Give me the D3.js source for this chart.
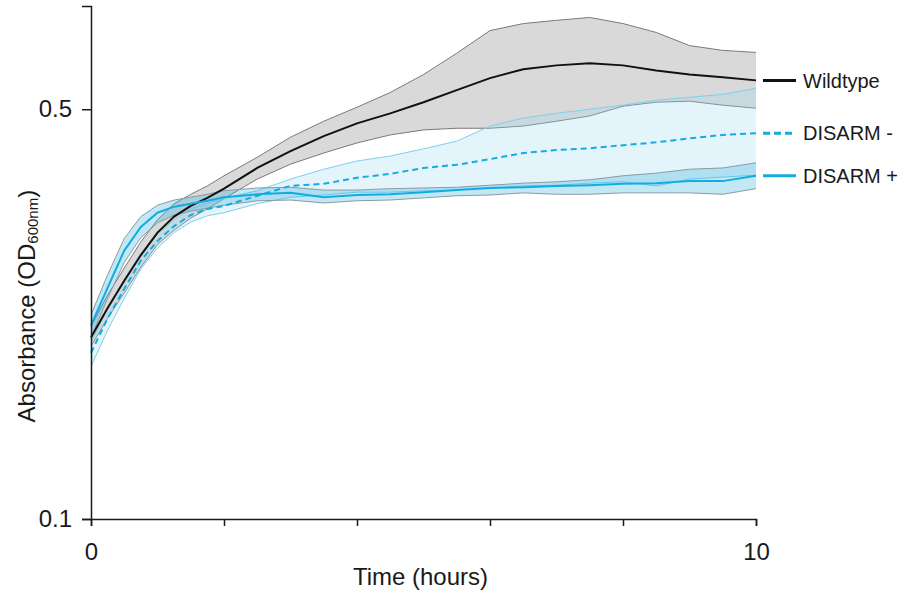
<!DOCTYPE html>
<html lang="en">
<head>
    <meta charset="UTF-8">
    <title>Growth curves</title>
    <script src="https://d3js.org/d3.v7.min.js"></script>
    <style>
        body {
            margin: 0;
            background-color: #ffffff;
            font-family: "Liberation Sans", Arial, sans-serif;
        }
        svg text {
            fill: #1a1a1a;
        }
    </style>
</head>
<body>
    <svg id="chart" width="899" height="594"></svg>

    <script>
        // time points (hours)
        const times = [0, 0.25, 0.5, 0.75, 1, 1.25, 1.5, 1.75, 2, 2.5, 3, 3.5, 4, 4.5, 5, 5.5, 6, 6.5, 7, 7.5, 8, 8.5, 9, 9.5, 10];

        // OD600 readings, mean and band edges
        const wildtypeMean = [0.204, 0.229, 0.255, 0.282, 0.308, 0.328, 0.342, 0.353, 0.366, 0.397, 0.424, 0.450, 0.473, 0.492, 0.514, 0.539, 0.565, 0.585, 0.594, 0.599, 0.594, 0.582, 0.573, 0.567, 0.560];
        const wildtypeHigh = [0.213, 0.241, 0.268, 0.297, 0.324, 0.345, 0.358, 0.370, 0.385, 0.414, 0.448, 0.477, 0.504, 0.534, 0.573, 0.623, 0.681, 0.700, 0.709, 0.717, 0.700, 0.676, 0.642, 0.630, 0.625];
        const wildtypeLow = [0.197, 0.220, 0.243, 0.269, 0.294, 0.311, 0.326, 0.338, 0.352, 0.380, 0.403, 0.421, 0.438, 0.452, 0.461, 0.464, 0.464, 0.468, 0.477, 0.487, 0.506, 0.514, 0.516, 0.508, 0.502];

        const disarmMinusMean = [0.192, 0.220, 0.247, 0.276, 0.298, 0.316, 0.330, 0.338, 0.342, 0.356, 0.370, 0.373, 0.382, 0.388, 0.397, 0.402, 0.411, 0.421, 0.426, 0.429, 0.434, 0.439, 0.446, 0.452, 0.455];
        const disarmMinusHigh = [0.200, 0.229, 0.256, 0.284, 0.306, 0.324, 0.338, 0.346, 0.352, 0.363, 0.380, 0.395, 0.408, 0.416, 0.428, 0.441, 0.468, 0.483, 0.492, 0.500, 0.508, 0.518, 0.524, 0.530, 0.543];
        const disarmMinusLow = [0.182, 0.210, 0.238, 0.267, 0.290, 0.308, 0.321, 0.329, 0.333, 0.345, 0.354, 0.357, 0.361, 0.361, 0.363, 0.364, 0.367, 0.370, 0.371, 0.374, 0.376, 0.370, 0.380, 0.383, 0.386];

        const disarmPlusMean = [0.214, 0.248, 0.287, 0.315, 0.333, 0.341, 0.345, 0.349, 0.354, 0.358, 0.360, 0.354, 0.357, 0.358, 0.361, 0.364, 0.367, 0.368, 0.370, 0.371, 0.373, 0.374, 0.377, 0.377, 0.385];
        const disarmPlusHigh = [0.223, 0.261, 0.301, 0.328, 0.343, 0.350, 0.354, 0.358, 0.363, 0.367, 0.368, 0.364, 0.364, 0.366, 0.367, 0.368, 0.371, 0.374, 0.376, 0.379, 0.385, 0.389, 0.395, 0.397, 0.405];
        const disarmPlusLow = [0.204, 0.238, 0.274, 0.302, 0.320, 0.330, 0.335, 0.339, 0.343, 0.349, 0.350, 0.346, 0.349, 0.350, 0.353, 0.356, 0.357, 0.360, 0.358, 0.358, 0.360, 0.360, 0.360, 0.358, 0.366];

        const xTicks = [0, 2, 4, 6, 8, 10];
        const xLabels = [0, 10];
        const yTicks = [0.1, 0.5];

        const series = [
            { label: "Wildtype", mean: wildtypeMean, hi: wildtypeHigh, lo: wildtypeLow,
              line: "#111111", dash: null, fill: "#d9d9d9", fillOpacity: 1, edge: "#7a7a7a" },
            { label: "DISARM -", mean: disarmMinusMean, hi: disarmMinusHigh, lo: disarmMinusLow,
              line: "#14ace0", dash: "6,4", fill: "#9fd9f0", fillOpacity: 0.28, edge: "#7fcfee" },
            { label: "DISARM +", mean: disarmPlusMean, hi: disarmPlusHigh, lo: disarmPlusLow,
              line: "#14ace0", dash: null, fill: "#35b3de", fillOpacity: 0.3, edge: "#8b9ba3" }
        ];

        const margin = { top: 6, right: 143, bottom: 75, left: 91 },
              width = 899 - margin.left - margin.right,
              height = 594 - margin.top - margin.bottom;

        const svg = d3.select("#chart")
            .append("g")
            .attr("transform", `translate(${margin.left},${margin.top})`);

        const x = d3.scaleLinear().domain([0, 10]).range([0, width]);
        const y = d3.scaleLog().domain([0.1, 0.75]).range([height, 0]);

        const area = s => d3.area()
            .x((d, i) => x(times[i]))
            .y0((d, i) => y(s.lo[i]))
            .y1((d, i) => y(s.hi[i]));

        const edge = () => d3.line()
            .x((d, i) => x(times[i]))
            .y(d => y(d));

        // bands
        series.forEach(s => {
            svg.append("path")
               .datum(s.mean)
               .attr("d", area(s))
               .attr("fill", s.fill)
               .attr("fill-opacity", s.fillOpacity)
               .attr("stroke", "none");
            [s.hi, s.lo].forEach(arr => {
                svg.append("path")
                   .datum(arr)
                   .attr("d", edge()(arr))
                   .attr("fill", "none")
                   .attr("stroke", s.edge)
                   .attr("stroke-width", 1);
            });
        });

        // mean lines
        series.forEach(s => {
            svg.append("path")
               .datum(s.mean)
               .attr("d", edge())
               .attr("fill", "none")
               .attr("stroke", s.line)
               .attr("stroke-width", 2)
               .attr("stroke-dasharray", s.dash);
        });

        // axes
        const xAxis = svg.append("g")
            .attr("transform", `translate(0,${height})`)
            .call(d3.axisBottom(x)
                .tickValues(xTicks)
                .tickSize(7)
                .tickSizeOuter(7)
                .tickPadding(17)
                .tickFormat(d => xLabels.includes(d) ? d : ""));

        const yAxis = svg.append("g")
            .call(d3.axisLeft(y)
                .tickValues(yTicks)
                .tickSize(9)
                .tickSizeOuter(9)
                .tickPadding(10)
                .tickFormat(d3.format("")));

        [xAxis, yAxis].forEach(g => {
            g.selectAll("path, line").attr("stroke", "#1a1a1a").attr("stroke-width", 1.5);
            g.selectAll("text")
             .style("font-family", "'Liberation Sans', Arial, sans-serif")
             .style("font-size", "24px")
             .attr("fill", "#1a1a1a");
        });

        // legend, placed at the end of each line
        const legend = svg.selectAll(".legend")
            .data(series)
            .enter().append("g")
            .attr("class", "legend")
            .attr("transform", d => `translate(${width + 7}, ${y(d.mean[d.mean.length - 1])})`);

        legend.append("line")
            .attr("x1", 0).attr("x2", 33)
            .attr("stroke", d => d.line)
            .attr("stroke-width", 3)
            .attr("stroke-dasharray", d => d.dash ? "7,4" : null);

        legend.append("text")
            .attr("x", 40)
            .attr("dy", "0.36em")
            .text(d => d.label)
            .style("font-size", "20px");

        // axis titles
        svg.append("text")
            .attr("x", x(5) - 3)
            .attr("y", height + 66)
            .attr("text-anchor", "middle")
            .style("font-size", "24px")
            .text("Time (hours)");

        const yTitle = svg.append("text")
            .attr("transform", `translate(${35 - margin.left},${height * 0.585}) rotate(-90)`)
            .attr("text-anchor", "middle")
            .style("font-size", "24px");
        yTitle.append("tspan").text("Absorbance (OD");
        yTitle.append("tspan").attr("dy", 3).style("font-size", "15px").text("600nm");
        yTitle.append("tspan").attr("dy", -3).text(")");
    </script>
</body>
</html>
